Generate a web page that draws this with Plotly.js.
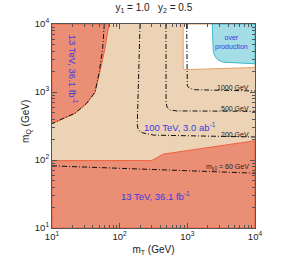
<!DOCTYPE html>
<html>
<head>
<meta charset="utf-8">
<script src="https://cdn.plot.ly/plotly-3.0.1.min.js"></script>
<style>html,body{margin:0;padding:0;background:#fff;}#chart{width:287px;height:268px;}</style>
</head>
<body>
<div id="chart"></div>
<script>
// 100 TeV, 3.0 ab^-1 reach (whole plane, covered where not overlaid)
const reach100X = [10, 10000, 10000, 10, 10];
const reach100Y = [10, 10, 10000, 10000, 10];
// white (not covered) region top-right
const openX = [865, 870, 895, 10000, 10000, 865];
const openY = [10000, 2250, 2130, 2290, 10000, 10000];
// over production region
const overX = [2335, 2415, 2585, 2860, 3390, 10000, 10000, 2335];
const overY = [10000, 3920, 3300, 2950, 2750, 2600, 10000, 10000];
// 13 TeV, 36.1 fb^-1 exclusion, low m_Q band
const lhcLowX = [10, 297, 440, 10000, 10000, 10, 10];
const lhcLowY = [98, 98, 122, 192, 10, 10, 98];
// 13 TeV, 36.1 fb^-1 exclusion, low m_T band
const lhcLeftX = [10, 14.7, 21.9, 32.6, 43.2, 51.2, 60.7, 69.5, 10, 10];
const lhcLeftY = [342, 410, 486, 682, 990, 2000, 4400, 10000, 10000, 342];
// m_chi contours
const c1000X = [978, 980, 1000, 1080, 1300, 10000];
const c1000Y = [10000, 1400, 1230, 1130, 1080, 1035];
const c500X = [483, 485, 500, 553, 700, 10000];
const c500Y = [10000, 720, 600, 543, 527, 520];
const c200X = [200, 182, 188, 221, 320, 10000];
const c200Y = [10000, 330, 275, 250, 232, 218];
const c60aX = [59.3, 56.1, 50, 43.2, 32.6, 21.9, 14.7, 10];
const c60aY = [10000, 4400, 2000, 990, 682, 486, 410, 342];
const c60bX = [10, 100, 1000, 10000];
const c60bY = [82, 76, 70, 64];
// ticks
const tickVals = [10, 100, 1000, 10000];
const tickText = ['10<sup>1</sup>', '10<sup>2</sup>', '10<sup>3</sup>', '10<sup>4</sup>'];
const minorVals = [20, 30, 40, 50, 60, 70, 80, 90, 200, 300, 400, 500, 600, 700, 800, 900,
  2000, 3000, 4000, 5000, 6000, 7000, 8000, 9000];

const RED = '#EA8E76', RED_EDGE = '#F0603C', TAN = '#EDD3B6', CYAN = '#A4DDE6', CYAN_EDGE = '#3DB8CA', ORANGE = '#E8A066';
const BLUE = '#3A3AE0';
const dd = '5px,2px,1px,2px';
const FAM = 'Liberation Sans, Arial, sans-serif';

function poly(x, y, fill, line, w) {
  return {x: x, y: y, type: 'scatter', mode: 'lines', fill: 'toself', fillcolor: fill,
    line: {color: line, width: w}, hoverinfo: 'skip', showlegend: false};
}
function dline(x, y) {
  return {x: x, y: y, type: 'scatter', mode: 'lines', line: {color: '#111', width: 1, dash: dd},
    hoverinfo: 'skip', showlegend: false};
}

const data = [
  poly(reach100X, reach100Y, TAN, 'rgba(0,0,0,0)', 0),
  poly(openX, openY, '#ffffff', ORANGE, 1),
  poly(overX, overY, CYAN, CYAN_EDGE, 1),
  poly(lhcLowX, lhcLowY, RED, RED_EDGE, 1),
  poly(lhcLeftX, lhcLeftY, RED, RED_EDGE, 1),
  dline(c1000X, c1000Y),
  dline(c500X, c500Y),
  dline(c200X, c200Y),
  dline(c60aX, c60aY),
  dline(c60bX, c60bY)
];

const axisCommon = {
  type: 'log', range: [1, 4], tickmode: 'array', tickvals: tickVals, ticktext: tickText,
  ticks: 'inside', ticklen: 5, tickcolor: '#555', tickwidth: 1,
  showline: true, linecolor: '#555', linewidth: 1, mirror: 'allticks',
  showgrid: false, zeroline: false, fixedrange: true,
  tickfont: {family: FAM, size: 9.5, color: '#222'},
  minor: {tickmode: 'array', tickvals: minorVals, ticks: 'inside', ticklen: 3, tickcolor: '#555', tickwidth: 1, showgrid: false}
};

const annFont = {family: FAM, size: 7, color: '#222'};
const blueFont = {family: FAM, size: 9.5, color: BLUE};
const titleFont = {family: FAM, size: 10, color: '#222'};
const layout = {
  width: 287, height: 268,
  margin: {l: 52, r: 32, t: 24, b: 40},
  paper_bgcolor: '#fff', plot_bgcolor: '#fff',
  title: {text: 'y<sub>1</sub> = 1.0   y<sub>2</sub> = 0.5', x: 0.536, xanchor: 'center', y: 0.972, yanchor: 'middle', yref: 'container',
    font: titleFont},
  xaxis: Object.assign({}, axisCommon, {title: {text: 'm<sub>T</sub> (GeV)', standoff: 4, font: titleFont}}),
  yaxis: Object.assign({}, axisCommon),
  annotations: [
    {text: 'm<sub>Q</sub> (GeV)', xref: 'paper', yref: 'paper', x: -0.123, y: 0.52, xanchor: 'center', yanchor: 'middle', textangle: -90, showarrow: false, font: titleFont},
    {text: '1000 GeV', xref: 'paper', yref: 'paper', x: 0.98, y: 0.691, xanchor: 'right', yanchor: 'middle', showarrow: false, font: annFont},
    {text: '500 GeV', xref: 'paper', yref: 'paper', x: 0.98, y: 0.588, xanchor: 'right', yanchor: 'middle', showarrow: false, font: annFont},
    {text: '200 GeV', xref: 'paper', yref: 'paper', x: 0.98, y: 0.456, xanchor: 'right', yanchor: 'middle', showarrow: false, font: annFont},
    {text: 'm<sub>χ1</sub> = 60 GeV', xref: 'paper', yref: 'paper', x: 0.98, y: 0.299, xanchor: 'right', yanchor: 'middle', showarrow: false, font: annFont},
    {text: '100 TeV, 3.0 ab<sup>-1</sup>', xref: 'paper', yref: 'paper', x: 0.631, y: 0.495, xanchor: 'center', yanchor: 'middle', showarrow: false, font: blueFont},
    {text: '13 TeV, 36.1 fb<sup>-1</sup>', xref: 'paper', yref: 'paper', x: 0.512, y: 0.157, xanchor: 'center', yanchor: 'middle', showarrow: false, font: blueFont},
    {text: '13 TeV, 36.1 fb<sup>-1</sup>', xref: 'paper', yref: 'paper', x: 0.105, y: 0.779, xanchor: 'center', yanchor: 'middle', textangle: 90, showarrow: false, font: blueFont},
    {text: 'over<br>production', xref: 'paper', yref: 'paper', x: 0.885, y: 0.909, xanchor: 'center', yanchor: 'middle', showarrow: false,
      font: {family: FAM, size: 7, color: BLUE}}
  ]
};

Plotly.newPlot('chart', data, layout, {displayModeBar: false, staticPlot: true});
</script>
</body>
</html>
